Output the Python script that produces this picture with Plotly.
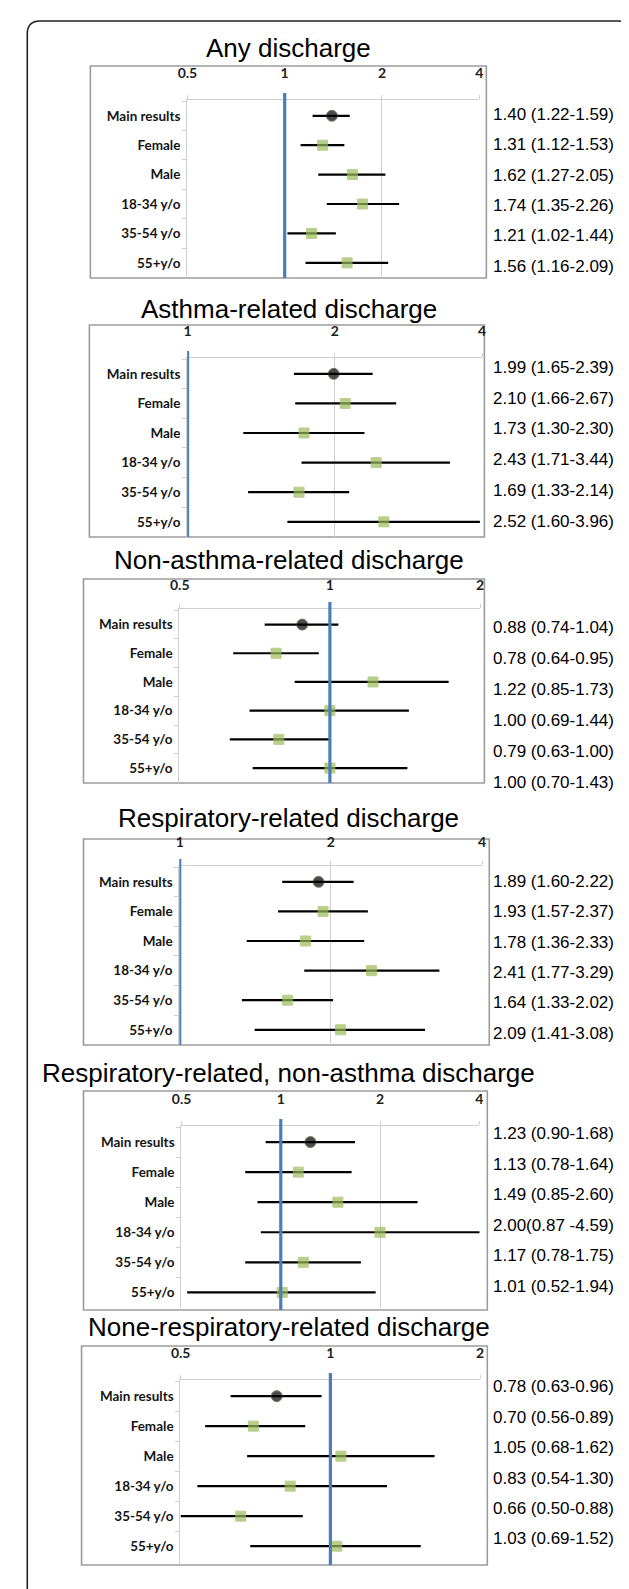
import math
import plotly.graph_objects as go

W, H = 629, 1589

categories = ["Main results", "Female", "Male", "18-34 y/o", "35-54 y/o", "55+y/o"]

titles = [
    "Any discharge",
    "Asthma-related discharge",
    "Non-asthma-related discharge",
    "Respiratory-related discharge",
    "Respiratory-related, non-asthma discharge",
    "None-respiratory-related discharge",
]

# odds ratios and 95% CI per panel
or_any = [1.40, 1.31, 1.62, 1.74, 1.21, 1.56]
lo_any = [1.22, 1.12, 1.27, 1.35, 1.02, 1.16]
hi_any = [1.59, 1.53, 2.05, 2.26, 1.44, 2.09]

or_asthma = [1.99, 2.10, 1.73, 2.43, 1.69, 2.52]
lo_asthma = [1.65, 1.66, 1.30, 1.71, 1.33, 1.60]
hi_asthma = [2.39, 2.67, 2.30, 3.44, 2.14, 3.96]

or_nonasthma = [0.88, 0.78, 1.22, 1.00, 0.79, 1.00]
lo_nonasthma = [0.74, 0.64, 0.85, 0.69, 0.63, 0.70]
hi_nonasthma = [1.04, 0.95, 1.73, 1.44, 1.00, 1.43]

or_resp = [1.89, 1.93, 1.78, 2.41, 1.64, 2.09]
lo_resp = [1.60, 1.57, 1.36, 1.77, 1.33, 1.41]
hi_resp = [2.22, 2.37, 2.33, 3.29, 2.02, 3.08]

or_resp_nonasthma = [1.23, 1.13, 1.49, 2.00, 1.17, 1.01]
lo_resp_nonasthma = [0.90, 0.78, 0.85, 0.87, 0.78, 0.52]
hi_resp_nonasthma = [1.68, 1.64, 2.60, 4.59, 1.75, 1.94]

or_nonresp = [0.78, 0.70, 1.05, 0.83, 0.66, 1.03]
lo_nonresp = [0.63, 0.56, 0.68, 0.54, 0.50, 0.69]
hi_nonresp = [0.96, 0.89, 1.62, 1.30, 0.88, 1.52]

# text column on the right
labels_any = ["1.40 (1.22-1.59)", "1.31 (1.12-1.53)", "1.62 (1.27-2.05)",
              "1.74 (1.35-2.26)", "1.21 (1.02-1.44)", "1.56 (1.16-2.09)"]
labels_asthma = ["1.99 (1.65-2.39)", "2.10 (1.66-2.67)", "1.73 (1.30-2.30)",
                 "2.43 (1.71-3.44)", "1.69 (1.33-2.14)", "2.52 (1.60-3.96)"]
labels_nonasthma = ["0.88 (0.74-1.04)", "0.78 (0.64-0.95)", "1.22 (0.85-1.73)",
                    "1.00 (0.69-1.44)", "0.79 (0.63-1.00)", "1.00 (0.70-1.43)"]
labels_resp = ["1.89 (1.60-2.22)", "1.93 (1.57-2.37)", "1.78 (1.36-2.33)",
               "2.41 (1.77-3.29)", "1.64 (1.33-2.02)", "2.09 (1.41-3.08)"]
labels_resp_nonasthma = ["1.23 (0.90-1.68)", "1.13 (0.78-1.64)", "1.49 (0.85-2.60)",
                         "2.00(0.87 -4.59)", "1.17 (0.78-1.75)", "1.01 (0.52-1.94)"]
labels_nonresp = ["0.78 (0.63-0.96)", "0.70 (0.56-0.89)", "1.05 (0.68-1.62)",
                  "0.83 (0.54-1.30)", "0.66 (0.50-0.88)", "1.03 (0.69-1.52)"]

x_ranges = [[0.5, 4], [1, 4], [0.5, 2], [1, 4], [0.5, 4], [0.5, 2]]
x_ticks = [[0.5, 1, 2, 4], [1, 2, 4], [0.5, 1, 2], [1, 2, 4], [0.5, 1, 2, 4], [0.5, 1, 2]]
x_ticktext = [["0.5", "1", "2", "4"], ["1", "2", "4"], ["0.5", "1", "2"],
              ["1", "2", "4"], ["0.5", "1", "2", "4"], ["0.5", "1", "2"]]
ref_value = 1.0

panels_or = [or_any, or_asthma, or_nonasthma, or_resp, or_resp_nonasthma, or_nonresp]
panels_lo = [lo_any, lo_asthma, lo_nonasthma, lo_resp, lo_resp_nonasthma, lo_nonresp]
panels_hi = [hi_any, hi_asthma, hi_nonasthma, hi_resp, hi_resp_nonasthma, hi_nonresp]
panels_lab = [labels_any, labels_asthma, labels_nonasthma, labels_resp,
              labels_resp_nonasthma, labels_nonresp]

# ---- layout geometry (pixels) ----
plot_boxes = [  # x0, x1, top, bottom of plotting area
    (173, 472, 92, 270),
    (173, 475, 350, 529),
    (165, 473, 601, 775),
    (165, 475, 858, 1037),
    (167, 472, 1118, 1302),
    (166, 473, 1372, 1557),
]
frame_boxes = [  # x0, x1, top, bottom of grey frame
    (74, 479, 58, 270),
    (73, 477, 317, 529),
    (67, 477, 571, 775),
    (67, 482, 831, 1037),
    (67, 480, 1083, 1302),
    (65, 480, 1338, 1557),
]
title_y = [40, 301, 552, 810, 1065, 1319]
tick_standoff = [11, 11, 8, 8, 11, 11]
label_shift = [(-1.5, 1.0), (-6.3, 1.1), (2.5, 2.4), (-0.5, 0.8), (-8.6, 0.5), (-9.3, 0.4)]

GREEN = "#9BBB59"
BLUE = "#4A7EBB"
GRID = "#cfcfcf"
FRAME = "#9c9c9c"

def px(x):
    return x / W

def py(y):
    return 1 - y / H

fig = go.Figure()
shapes = []
annotations = []
layout_axes = {}

for i in range(6):
    n = i + 1
    xa = "x" if n == 1 else f"x{n}"
    ya = "y" if n == 1 else f"y{n}"
    ors, los, his = panels_or[i], panels_lo[i], panels_hi[i]
    is_main = [c == "Main results" for c in categories]
    fig.add_trace(go.Scatter(
        x=ors, y=categories, mode="markers",
        xaxis=xa, yaxis=ya, showlegend=False, hoverinfo="skip",
        marker=dict(symbol=["circle" if m else "square" for m in is_main],
                    color=["black" if m else GREEN for m in is_main],
                    size=[11 if m else 10 for m in is_main],
                    line=dict(color=["#3d4a1c" if m else GREEN for m in is_main], width=1)),
        error_x=dict(type="data", symmetric=False,
                     array=[h - o for h, o in zip(his, ors)],
                     arrayminus=[o - l for o, l in zip(ors, los)],
                     color="black", thickness=2.2, width=0),
    ))
    x0, x1, top, bot = plot_boxes[i]
    r0, r1 = x_ranges[i]
    layout_axes["xaxis" if n == 1 else f"xaxis{n}"] = dict(
        type="log", domain=[px(x0), px(x1)], anchor=ya, side="top",
        range=[math.log10(r0) - 0.0008, math.log10(r1) + 0.0008],
        tickvals=x_ticks[i], ticktext=x_ticktext[i],
        showgrid=True, gridcolor=GRID, gridwidth=1,
        ticks="outside", ticklen=4, tickcolor=GRID, tickwidth=1,
        ticklabelstandoff=tick_standoff[i],
        showline=True, linecolor=GRID, linewidth=1, mirror=False,
        zeroline=False, fixedrange=True,
        tickfont=dict(family="Lato", size=14, color="#1e1e1e", weight="bold"),
    )
    layout_axes["yaxis" if n == 1 else f"yaxis{n}"] = dict(
        type="category", categoryorder="array", categoryarray=categories,
        domain=[py(bot), py(top)], anchor=xa, autorange="reversed",
        tickson="boundaries", ticks="outside", ticklen=4, tickcolor=GRID,
        showline=True, linecolor=GRID, linewidth=1, showgrid=False,
        zeroline=False, fixedrange=True, ticklabelstandoff=3,
        tickfont=dict(family="Lato", size=13.5, color="#151515", weight="bold"),
    )
    # grey frame
    fx0, fx1, ft, fb = frame_boxes[i]
    shapes.append(dict(type="rect", xref="paper", yref="paper",
                       x0=px(fx0), x1=px(fx1), y0=py(fb), y1=py(ft),
                       line=dict(color=FRAME, width=1.6), layer="below"))
    # reference line at OR = 1 (shape x is in data units on a log axis)
    shapes.append(dict(type="line", xref=xa, yref="paper",
                       x0=ref_value, x1=ref_value,
                       y0=py(bot), y1=py(top - 7),
                       line=dict(color=BLUE, width=3.2), layer="above"))
    # title
    annotations.append(dict(text=titles[i], xref="paper", yref="paper",
                            x=px(277), y=py(title_y[i]), xanchor="center", yanchor="middle",
                            showarrow=False,
                            font=dict(family="Liberation Sans", size=26, color="black")))
    # right-hand text column
    a, b = label_shift[i]
    for k, (cat, lab) in enumerate(zip(categories, panels_lab[i])):
        annotations.append(dict(text=lab, xref="paper", yref=ya, x=px(484), y=cat,
                                xanchor="left", yanchor="middle", showarrow=False,
                                yshift=-(a + b * k),
                                font=dict(family="Liberation Sans", size=17, color="black")))

# outer rounded frame (open at the bottom of the page)
r = 13
L, T, R, B = 9.5, 13, 626.5, 1640
path = (f"M {px(L)},{py(B)} L {px(L)},{py(T + r)} "
        f"Q {px(L)},{py(T)} {px(L + r)},{py(T)} "
        f"L {px(R - r)},{py(T)} Q {px(R)},{py(T)} {px(R)},{py(T + r)} "
        f"L {px(R)},{py(B)}")
shapes.append(dict(type="path", xref="paper", yref="paper", path=path,
                   line=dict(color="#222222", width=1.6)))

fig.update_layout(
    width=W, height=H,
    margin=dict(l=0, r=0, t=0, b=0),
    paper_bgcolor="white", plot_bgcolor="white",
    shapes=shapes, annotations=annotations,
    showlegend=False,
    **layout_axes,
)

fig.write_html("out.html", config={"displayModeBar": False})
